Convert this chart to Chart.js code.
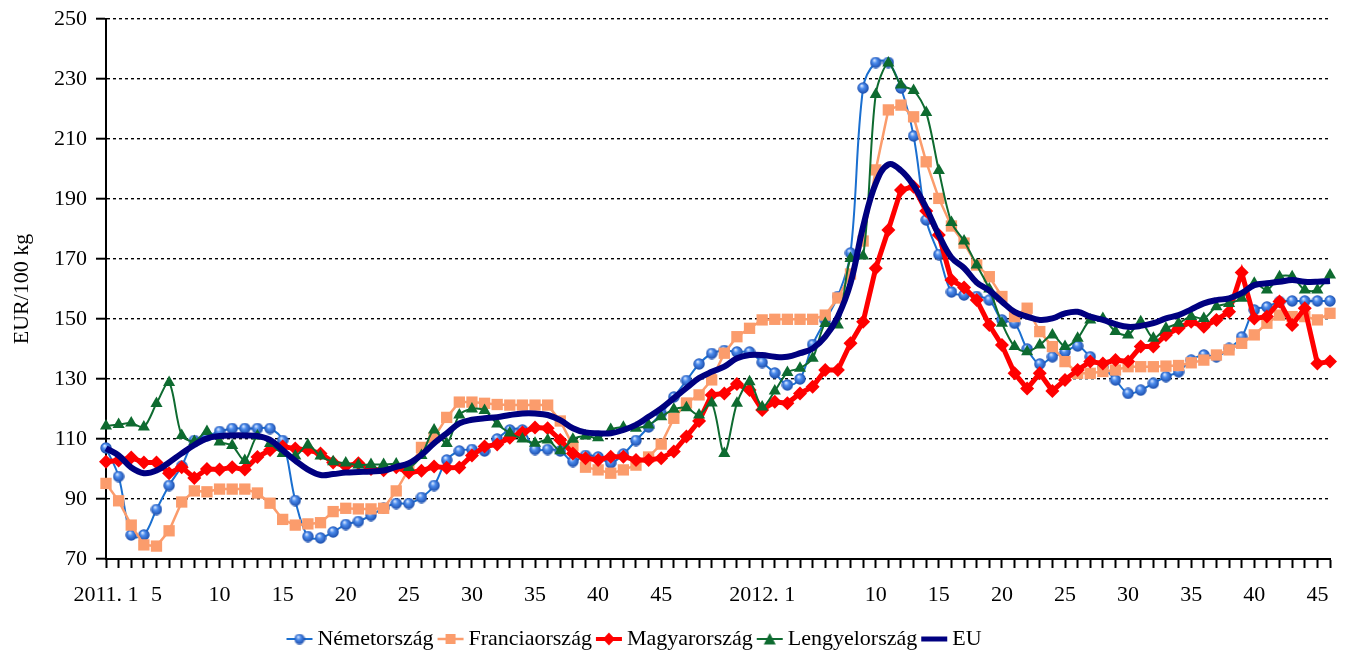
<!DOCTYPE html>
<html>
<head>
<meta charset="utf-8">
<script src="https://cdn.jsdelivr.net/npm/chart.js@4.4.0/dist/chart.umd.min.js"></script>
<style>
    html, body { margin: 0; padding: 0; background: #ffffff; }
    #wrap { width: 1345px; height: 660px; position: relative; }
</style>
</head>
<body>
<div id="wrap"><canvas id="price-chart"></canvas></div>
<script>
// Week numbers on the x axis
const weeks2011 = [1, 2, 3, 4, 5, 6, 7, 8, 9, 10, 11, 12, 13, 14, 15, 16, 17, 18, 19, 20,
    21, 22, 23, 24, 25, 26, 27, 28, 29, 30, 31, 32, 33, 34, 35, 36, 37, 38, 39, 40,
    41, 42, 43, 44, 45, 46, 47, 48, 49, 50, 51, 52];
const weeks2012 = [1, 2, 3, 4, 5, 6, 7, 8, 9, 10, 11, 12, 13, 14, 15, 16, 17, 18, 19, 20,
    21, 22, 23, 24, 25, 26, 27, 28, 29, 30, 31, 32, 33, 34, 35, 36, 37, 38, 39, 40,
    41, 42, 43, 44, 45, 46];

// Which week numbers get a tick label
const shownTicks2011 = [1, 5, 10, 15, 20, 25, 30, 35, 40, 45];
const shownTicks2012 = [1, 10, 15, 20, 25, 30, 35, 40, 45];

// Prices, EUR/100 kg
const nemetorszag = [
    107, 97.5, 78, 78, 86.5, 94.5, 101, 109.5, 111, 112.5,
    113.5, 113.5, 113.5, 113.5, 109.5, 89.5, 77.5, 77, 79, 81.5,
    82.5, 84.5, 87, 88.5, 88.5, 90.5, 94.5, 103, 106, 106.5,
    106, 110, 113, 113, 106.5, 106.5, 106, 102.5, 104.5, 104,
    102, 105, 109.5, 114, 118.5, 124, 129.5, 135, 138.5, 139.5,
    139, 139, 135.5, 132, 128, 130, 141.5, 149.5, 157.5, 172,
    227, 235.5, 235.5, 227, 211, 183, 171.5, 159, 158, 157.5,
    156.3, 149.7, 148.6, 140, 135, 137.4, 139, 141, 137.4, 134,
    129.7, 125.2, 126.3, 128.6, 130.8, 132.4, 136.3, 138, 137.4, 140.2,
    144, 153, 154, 155.8, 156, 156, 156, 156
];
const franciaorszag = [
    95.2, 89.4, 81.3, 74.7, 74.3, 79.4, 89, 92.7, 92.4, 93.3,
    93.3, 93.3, 92, 88.6, 83.2, 81.3, 81.7, 82.1, 85.8, 86.9,
    86.7, 86.7, 86.9, 92.7, 100, 107.2, 110.5, 117.2, 122.3, 122.3,
    121.9, 121.5, 121.3, 121.3, 121.3, 121.3, 116, 107.8, 100.6, 99.7,
    98.6, 99.7, 101.3, 104, 108.3, 116.9, 122, 124.7, 129.7, 138.6,
    144.1, 146.9, 149.7, 149.9, 149.9, 149.9, 149.9, 151.3, 157, 165,
    176, 199.7, 219.7, 221.3, 217.4, 202.4, 190.2, 181, 175.3, 168,
    164.1, 157.5, 150.8, 153.6, 145.8, 140.8, 135.8, 131.9, 131.9, 132.5,
    133, 134.1, 134.1, 134.1, 134.3, 134.5, 135.4, 136.3, 138, 139.7,
    141.9, 144.7, 148.6, 151.3, 150.8, 150.8, 149.7, 151.9
];
const magyarorszag = [
    102.4, 102.8, 103.8, 102.2, 102.2, 98.6, 100.6, 97, 100, 99.8,
    100.6, 99.8, 104, 106.3, 107.5, 106.8, 106.3, 105.2, 102.2, 101,
    101.9, 100, 99.6, 100.6, 98.8, 99.4, 100.8, 100.4, 100.5, 104.5,
    107.5, 108.2, 110.4, 112.2, 113.8, 113.6, 109.7, 105.2, 103.6, 103,
    104.1, 104.1, 103, 103, 103.6, 105.8, 110.8, 116, 124.7, 125.2,
    128.3, 126.3, 119.7, 122.4, 121.9, 125.2, 127.4, 133, 133, 141.9,
    149.1, 166.9, 179.7, 193, 194.1, 186, 178, 163, 160.5, 156.3,
    148, 141.3, 131.9, 126.8, 131.9, 126, 129.7, 133, 135.8, 135.2,
    136.3, 135.8, 140.8, 140.8, 144.7, 146.9, 149.1, 147.4, 149.7, 152.4,
    165.5, 150.2, 150.8, 155.8, 148, 153.6, 135.2, 135.8
];
const lengyelorszag = [
    114.3, 114.8, 115.3, 114, 121.8, 128.8, 111.2, 109.2, 112.5, 109,
    107.8, 102.8, 111, 108.5, 105.2, 104.3, 108, 104.3, 102.4, 102,
    101.3, 101.5, 101.5, 101.7, 100.5, 104.5, 113, 108.5, 118, 120,
    119.5, 115, 112, 110, 108.6, 109.7, 106.1, 109.9, 111, 110.4,
    113.2, 113.9, 113.6, 114.7, 117.4, 119.9, 120.4, 118, 122, 105.2,
    121.9, 129.1, 120.7, 126, 132.2, 133.6, 136.9, 148.5, 148, 170.2,
    171, 224.8, 235.3, 228, 226.2, 218.8, 199.5, 182.2, 176, 168,
    160, 148.6, 140.8, 139.1, 141.3, 144.7, 140.8, 143.6, 149.7, 150.2,
    145.8, 144.7, 149.1, 143.6, 146.9, 148.6, 150.8, 150.2, 154.1, 155.2,
    156.9, 161.9, 159.7, 164.1, 164.1, 159.7, 159.7, 164.7
];
const eu = [
    106.9, 104.5, 100.5, 98.6, 99.5, 102.2, 105.2, 108, 110.2, 111,
    111.2, 111.2, 111, 109.7, 106.3, 102.8, 99.8, 98, 98.3, 98.8,
    99, 99.2, 99.5, 100.7, 101.9, 104.7, 108.6, 111.9, 115.2, 116.4,
    116.9, 117.3, 118, 118.5, 118.5, 118, 116.3, 113.6, 112.2, 111.9,
    111.9, 113, 114.7, 117.4, 120.2, 123.6, 127, 130.3, 132.4, 134.1,
    136.9, 138, 138, 137.4, 137.4, 138.6, 140.2, 144.1, 150.8, 161.9,
    180.8, 195.2, 201.5, 199.5, 194.5, 187, 178, 170.5, 167, 162.2,
    159.5, 155.8, 152.4, 150.8, 149.7, 150.2, 151.9, 152.4, 150.8, 149.7,
    148.3, 147.4, 147.7, 148.6, 150.2, 151.3, 153.2, 155.2, 156.3, 156.9,
    158.6, 161.3, 161.9, 162.4, 163, 162.4, 162.4, 162.7
];

const FONT = "'Liberation Serif', 'Times New Roman', serif";

// Build category labels like "2011. 1"
const labels = weeks2011.map(w => '2011. ' + w).concat(weeks2012.map(w => '2012. ' + w));

function tickLabel(index) {
    if (index < weeks2011.length) {
        const w = weeks2011[index];
        if (!shownTicks2011.includes(w)) return '';
        return w === 1 ? '2011. 1' : String(w);
    }
    const w = weeks2012[index - weeks2011.length];
    if (!shownTicks2012.includes(w)) return '';
    return w === 1 ? '2012. 1' : String(w);
}

// Shiny blue ball marker
function makeSphere(size) {
    const c = document.createElement('canvas');
    c.width = size;
    c.height = size;
    const g = c.getContext('2d');
    const r = size / 2;
    const grad = g.createRadialGradient(r * 0.75, r * 0.6, 0.4, r, r, r);
    grad.addColorStop(0, '#d6e6ff');
    grad.addColorStop(0.35, '#4c8ced');
    grad.addColorStop(1, '#1849a8');
    g.fillStyle = grad;
    g.beginPath();
    g.arc(r, r, r - 0.3, 0, Math.PI * 2);
    g.fill();
    return c;
}

// Legend icon: short line with the marker in the middle
function makeLegendIcon(color, lineWidth, marker) {
    const c = document.createElement('canvas');
    c.width = 30;
    c.height = 14;
    const g = c.getContext('2d');
    g.strokeStyle = color;
    g.lineWidth = lineWidth;
    g.beginPath();
    g.moveTo(2, 7);
    g.lineTo(28, 7);
    g.stroke();
    g.fillStyle = color;
    if (marker === 'sphere') {
        g.drawImage(makeSphere(11), 9.5, 1.5);
    } else if (marker === 'square') {
        g.fillRect(10, 2, 10, 10);
    } else if (marker === 'diamond') {
        g.beginPath();
        g.moveTo(15, 0.5); g.lineTo(21, 7); g.lineTo(15, 13.5); g.lineTo(9, 7);
        g.closePath();
        g.fill();
    } else if (marker === 'triangle') {
        g.beginPath();
        g.moveTo(15, 1); g.lineTo(21, 12.5); g.lineTo(9, 12.5);
        g.closePath();
        g.fill();
    }
    return c;
}

const legendIcons = [
    makeLegendIcon('#1a6fd0', 2, 'sphere'),
    makeLegendIcon('#fb9c6c', 2.5, 'square'),
    makeLegendIcon('#ff0000', 4, 'diamond'),
    makeLegendIcon('#0e6b30', 2, 'triangle'),
    makeLegendIcon('#000080', 5, null)
];

// Nudge the legend a bit left, like the original
const legendShift = {
    id: 'legendShift',
    afterLayout(chart) {
        if (chart.legend) {
            chart.legend.left -= 28;
            chart.legend.right -= 28;
        }
    }
};

function createChart() {
    const ctx = document.getElementById('price-chart').getContext('2d');
    const sphere = makeSphere(12);

    new Chart(ctx, {
        type: 'line',
        data: {
            labels: labels,
            datasets: [
                {
                    label: 'Németország',
                    data: nemetorszag,
                    borderColor: '#1a6fd0',
                    backgroundColor: '#3c7de0',
                    borderWidth: 2,
                    tension: 0.35,
                    pointStyle: sphere,
                    pointRadius: 6,
                    order: 5,
                    clip: false
                },
                {
                    label: 'Franciaország',
                    data: franciaorszag,
                    borderColor: '#fb9c6c',
                    backgroundColor: '#fb9c6c',
                    borderWidth: 2.5,
                    tension: 0,
                    pointStyle: 'rect',
                    pointRadius: 8,
                    pointBorderWidth: 0,
                    order: 4,
                    clip: false
                },
                {
                    label: 'Magyarország',
                    data: magyarorszag,
                    borderColor: '#ff0000',
                    backgroundColor: '#ff0000',
                    borderWidth: 5,
                    tension: 0,
                    pointStyle: 'rectRot',
                    pointRadius: 7,
                    pointBorderWidth: 0,
                    order: 3,
                    clip: false
                },
                {
                    label: 'Lengyelország',
                    data: lengyelorszag,
                    borderColor: '#0e6b30',
                    backgroundColor: '#0e6b30',
                    borderWidth: 2,
                    tension: 0.3,
                    pointStyle: 'triangle',
                    pointRadius: 7,
                    pointBorderWidth: 0,
                    order: 2,
                    clip: false
                },
                {
                    label: 'EU',
                    data: eu,
                    borderColor: '#000080',
                    backgroundColor: '#000080',
                    borderWidth: 6,
                    tension: 0.4,
                    pointRadius: 0,
                    order: 1,
                    clip: false
                }
            ]
        },
        options: {
            responsive: true,
            maintainAspectRatio: false,
            animation: false,
            events: [],
            layout: {
                padding: { left: 0, right: 15, top: 19, bottom: 0 }
            },
            plugins: {
                tooltip: { enabled: false },
                legend: {
                    position: 'bottom',
                    labels: {
                        usePointStyle: true,
                        pointStyleWidth: 14,
                        padding: 10,
                        color: '#000000',
                        font: { family: FONT, size: 22 },
                        sort: (a, b) => a.datasetIndex - b.datasetIndex,
                        generateLabels: chart => {
                            const items = Chart.defaults.plugins.legend.labels.generateLabels(chart);
                            items.forEach(item => {
                                item.pointStyle = legendIcons[item.datasetIndex];
                                item.lineWidth = 0;
                            });
                            return items;
                        }
                    }
                }
            },
            scales: {
                x: {
                    offset: false,
                    afterFit: scale => { scale.height = 59; },
                    grid: {
                        display: true,
                        drawOnChartArea: false,
                        drawTicks: true,
                        tickLength: 9,
                        tickColor: '#000000',
                        tickWidth: 2
                    },
                    border: { display: true, color: '#000000', width: 2 },
                    ticks: {
                        autoSkip: false,
                        maxRotation: 0,
                        minRotation: 0,
                        padding: 14,
                        color: '#000000',
                        font: { family: FONT, size: 22 },
                        callback: (value, index) => tickLabel(index)
                    }
                },
                y: {
                    min: 70,
                    max: 250,
                    afterFit: scale => {
                        scale.width = 106;
                        scale.paddingTop = 0;
                        scale.paddingBottom = 0;
                    },
                    title: {
                        display: true,
                        text: 'EUR/100 kg',
                        color: '#000000',
                        font: { family: FONT, size: 22 },
                        padding: { top: 9, bottom: 0 }
                    },
                    grid: {
                        color: '#000000',
                        lineWidth: 1.4,
                        drawTicks: true,
                        tickLength: 10,
                        tickColor: '#000000',
                        tickWidth: 2
                    },
                    border: { display: true, color: '#000000', width: 2, dash: [3, 3] },
                    ticks: {
                        stepSize: 20,
                        padding: 9,
                        color: '#000000',
                        font: { family: FONT, size: 22 }
                    }
                }
            }
        },
        plugins: [legendShift]
    });
}

createChart();
</script>
</body>
</html>
